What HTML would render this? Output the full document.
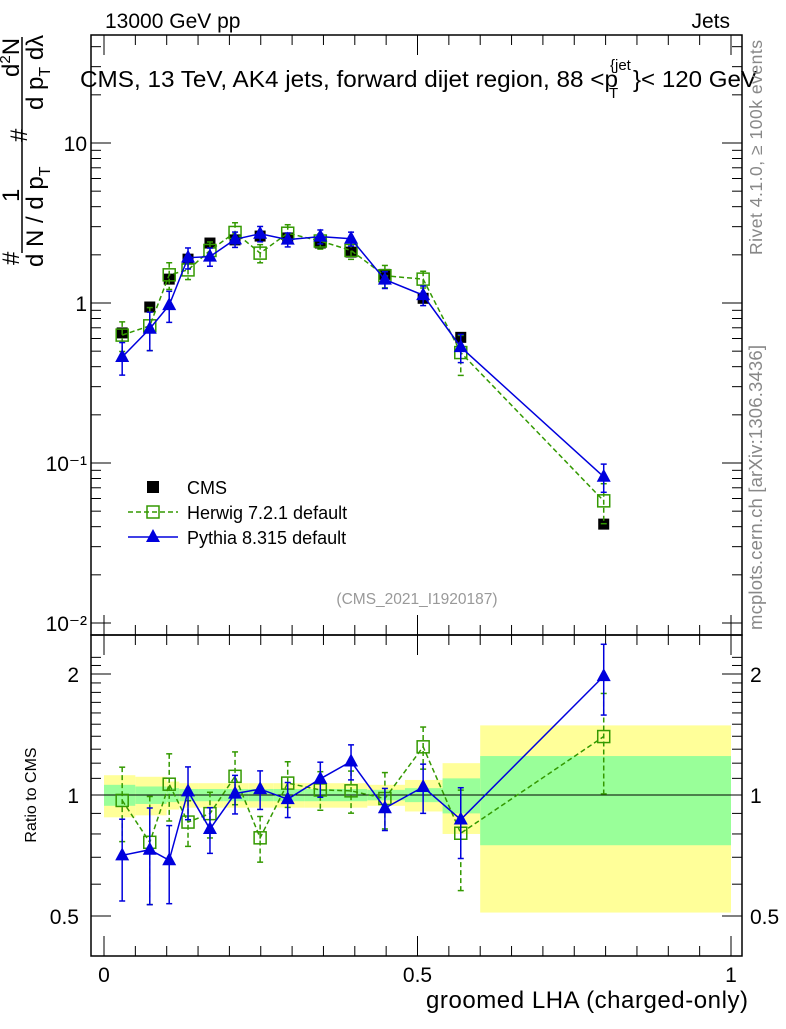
<!DOCTYPE html>
<html><head><meta charset="utf-8"><style>
body{margin:0;background:#fff;}
svg text{font-family:"Liberation Sans",sans-serif;}
</style></head><body>
<svg id="chart" width="786" height="1024" viewBox="0 0 786 1024" xmlns="http://www.w3.org/2000/svg">
<g id="bands"></g><g id="axes"></g><g id="marks"></g><g id="labels"></g>
</svg>
<script>
const xVals=[0.029,0.073,0.104,0.134,0.169,0.209,0.249,0.293,0.345,0.394,0.448,0.509,0.569,0.797];
const binEdges=[0,0.05,0.1,0.12,0.15,0.19,0.23,0.27,0.32,0.37,0.42,0.48,0.54,0.6,1.0];
const cmsVals=[0.65,0.944,1.41,1.88,2.37,2.48,2.62,2.55,2.37,2.08,1.51,1.07,0.61,0.0415];
const herwigVals=[0.63,0.72,1.50,1.61,2.13,2.76,2.05,2.73,2.44,2.13,1.48,1.41,0.49,0.058];
const herwigErr=[0.21,0.30,0.19,0.13,0.13,0.15,0.13,0.13,0.11,0.12,0.16,0.12,0.28,0.28];
const pythiaVals=[0.46,0.69,0.97,1.92,1.95,2.50,2.71,2.49,2.60,2.52,1.40,1.12,0.53,0.082];
const pythiaErr=[0.23,0.27,0.22,0.15,0.13,0.11,0.11,0.10,0.10,0.10,0.12,0.14,0.20,0.20];
const bandYellow=[0.12,0.11,0.08,0.07,0.07,0.07,0.07,0.07,0.07,0.07,0.06,0.09,0.20,0.49];
const bandGreen=[0.06,0.05,0.04,0.035,0.035,0.035,0.035,0.035,0.035,0.035,0.03,0.04,0.10,0.25];
const mainTicks=[0.01,0.1,1,10];
const mainTickLabels=["10\u207B\u00B2","10\u207B\u00B9","1","10"];
const ratioTicks=[0.5,1,2];
const ratioTickLabels=["0.5","1","2"];
const xTicks=[0,0.5,1];
const xTickLabels=["0","0.5","1"];

const NS="http://www.w3.org/2000/svg";
const X0=91,X1=742,MT=35,MB=635,RB=956;
const xs=v=>104+v*627;
const ym=v=>303-160*Math.log10(v);
const yr=v=>795-402*Math.log10(v);
function mk(p,tag,at,txt){const e=document.createElementNS(NS,tag);for(const k in at)e.setAttribute(k,at[k]);if(txt!==undefined)e.textContent=txt;document.getElementById(p).appendChild(e);return e;}

for(let i=0;i<bandYellow.length;i++){
 const a=xs(binEdges[i]),b=xs(binEdges[i+1]);
 let e=mk('bands','rect',{x:a,y:yr(1+bandYellow[i]),width:b-a,height:yr(1-bandYellow[i])-yr(1+bandYellow[i]),fill:'#ffff99'});
 
 
 e=mk('bands','rect',{x:a,y:yr(1+bandGreen[i]),width:b-a,height:yr(1-bandGreen[i])-yr(1+bandGreen[i]),fill:'#99ff99'});
 
 
}
let f=mk('axes','rect',{x:X0,y:MT,width:X1-X0,height:MB-MT,fill:'none',stroke:'#000','stroke-width':1.5});


f=mk('axes','rect',{x:X0,y:MB,width:X1-X0,height:RB-MB,fill:'none',stroke:'#000','stroke-width':1.5});


mk('axes','line',{x1:X0,x2:X1,y1:yr(1),y2:yr(1),stroke:'#000','stroke-width':1});
for(let d=-2;d<=1;d++){for(let m=1;m<10;m++){const v=m*Math.pow(10,d);const y=ym(v);if(y<MT||y>MB)continue;const L=m==1?20:10;
 mk('axes','line',{x1:X0,x2:X0+L,y1:y,y2:y,stroke:'#000'});mk('axes','line',{x1:X1,x2:X1-L,y1:y,y2:y,stroke:'#000'});}}
mainTicks.forEach((v,i)=>{const t=mk('labels','text',{x:X0-4,y:ym(v)+8,'text-anchor':'end','font-size':21},mainTickLabels[i]);
 
 });
for(let v=0.5;v<=2.21;v+=0.1){const y=yr(v);if(y<MB||y>RB)continue;const maj=Math.abs(v-0.5)<1e-6||Math.abs(v-1)<1e-6||Math.abs(v-2)<1e-6;const L=maj?20:10;
 mk('axes','line',{x1:X0,x2:X0+L,y1:y,y2:y,stroke:'#000'});mk('axes','line',{x1:X1,x2:X1-L,y1:y,y2:y,stroke:'#000'});}
ratioTicks.forEach((v,i)=>{let t=mk('labels','text',{x:X0-12,y:yr(v)+8,'text-anchor':'end','font-size':21},ratioTickLabels[i]);
 
 
 t=mk('labels','text',{x:X1+8,y:yr(v)+8,'text-anchor':'start','font-size':21},ratioTickLabels[i]);
 
 });
for(let v=0;v<=1.001;v+=0.05){const x=xs(v);const maj=Math.abs(v*10-Math.round(v*10))<1e-6&&Math.round(v*10)%5==0;const L=maj?20:10;
 [[MT,1],[MB,-1],[MB,1],[RB,-1]].forEach(([y,s])=>mk('axes','line',{x1:x,x2:x,y1:y,y2:y+s*L,stroke:'#000'}));}
xTicks.forEach((v,i)=>{const t=mk('labels','text',{x:xs(v),y:982,'text-anchor':'middle','font-size':21},xTickLabels[i]);
 
 });

function series(vals,err,color,dash,kind,ratio){
 const yf=ratio?yr:ym;
 const pts=vals.map((v,i)=>[xs(xVals[i]),yf(ratio?v/cmsVals[i]:v)]);
 const pl=mk('marks','polyline',{points:pts.map(p=>p.join(',')).join(' '),fill:'none',stroke:color,'stroke-width':1.5,'stroke-dasharray':dash});
 
 
 vals.forEach((v,i)=>{const c=ratio?v/cmsVals[i]:v;const x=pts[i][0];
  const y1=yf(c*(1+err[i])),y2=yf(c*(1-err[i]));
  mk('marks','line',{x1:x,x2:x,y1:y1,y2:y2,stroke:color,'stroke-width':1.5,'stroke-dasharray':dash});
  mk('marks','line',{x1:x-3,x2:x+3,y1:y1,y2:y1,stroke:color,'stroke-width':1.5});
  mk('marks','line',{x1:x-3,x2:x+3,y1:y2,y2:y2,stroke:color,'stroke-width':1.5});
  const y=pts[i][1];let m;
  if(kind=='herwig')m=mk('marks','rect',{x:x-6,y:y-6,width:12,height:12,fill:'none',stroke:color,'stroke-width':1.5});
  else m=mk('marks','polygon',{points:`${x},${y-8} ${x-7},${y+5} ${x+7},${y+5}`,fill:color});
  
  
 });
}
cmsVals.forEach((v,i)=>{const x=xs(xVals[i]),y=ym(v);const m=mk('marks','rect',{x:x-5.5,y:y-5.5,width:11,height:11,fill:'#000'});
 
 });
series(herwigVals,herwigErr,'#339900','5,3','herwig',false);
series(pythiaVals,pythiaErr,'#0000dd','','pythia',false);
series(herwigVals,herwigErr,'#339900','5,3','herwig',true);
series(pythiaVals,pythiaErr,'#0000dd','','pythia',true);
</script>
<svg width="786" height="1024" style="position:absolute;left:0;top:0" xmlns="http://www.w3.org/2000/svg">
<text x="105" y="28" font-size="21">13000 GeV pp</text>
<text x="730" y="28" font-size="21" text-anchor="end">Jets</text>
<text x="80" y="87" font-size="23" textLength="538" lengthAdjust="spacingAndGlyphs">CMS, 13 TeV, AK4 jets, forward dijet region, 88 &lt;p</text>
<text x="609" y="98" font-size="15">T</text>
<text x="610" y="70" font-size="15">{jet</text>
<text x="633" y="87" font-size="23" textLength="124" lengthAdjust="spacingAndGlyphs">}&lt; 120 GeV</text>
<g>
<rect x="147" y="481" width="12" height="12" fill="#000"/>
<text x="187" y="494" font-size="18">CMS</text>
<line x1="128" x2="178" y1="512" y2="512" stroke="#339900" stroke-width="1.5" stroke-dasharray="5,3"/>
<rect x="147" y="506" width="12" height="12" fill="none" stroke="#339900" stroke-width="1.5"/>
<text x="187" y="519" font-size="18">Herwig 7.2.1 default</text>
<line x1="128" x2="178" y1="537" y2="537" stroke="#0000dd" stroke-width="1.5"/>
<polygon points="153,529 146,542 160,542" fill="#0000dd"/>
<text x="187" y="544" font-size="18">Pythia 8.315 default</text>
</g>
<text x="417" y="604" font-size="15.5" fill="#999" text-anchor="middle">(CMS_2021_I1920187)</text>
<text transform="translate(762,255) rotate(-90)" font-size="17.5" fill="#888" textLength="215">Rivet 4.1.0, ≥ 100k events</text>
<text transform="translate(762,630) rotate(-90)" font-size="18.5" fill="#888" textLength="285">mcplots.cern.ch [arXiv:1306.3436]</text>
<text transform="translate(36,795) rotate(-90)" font-size="16" text-anchor="middle">Ratio to CMS</text>
<text x="748" y="1008" font-size="24" text-anchor="end" textLength="322">groomed LHA (charged-only)</text>
<g transform="translate(0,270) rotate(-90)" font-size="24">
<text x="5" y="19">#</text>
<text x="68" y="19">1</text>
<line x1="17" x2="233" y1="22" y2="22" stroke="#000" stroke-width="1.5"/>
<text x="3" y="43">d N / d p<tspan font-size="16" dy="7">T</tspan></text>
<text x="128" y="27">#</text>
<text x="160" y="43">d p<tspan font-size="16" dy="7">T</tspan><tspan dy="-7"> dλ</tspan></text>
<text x="193" y="19">d<tspan font-size="15" dy="-9">2</tspan><tspan dy="9">N</tspan></text>
</g>
</svg>
</body></html>
